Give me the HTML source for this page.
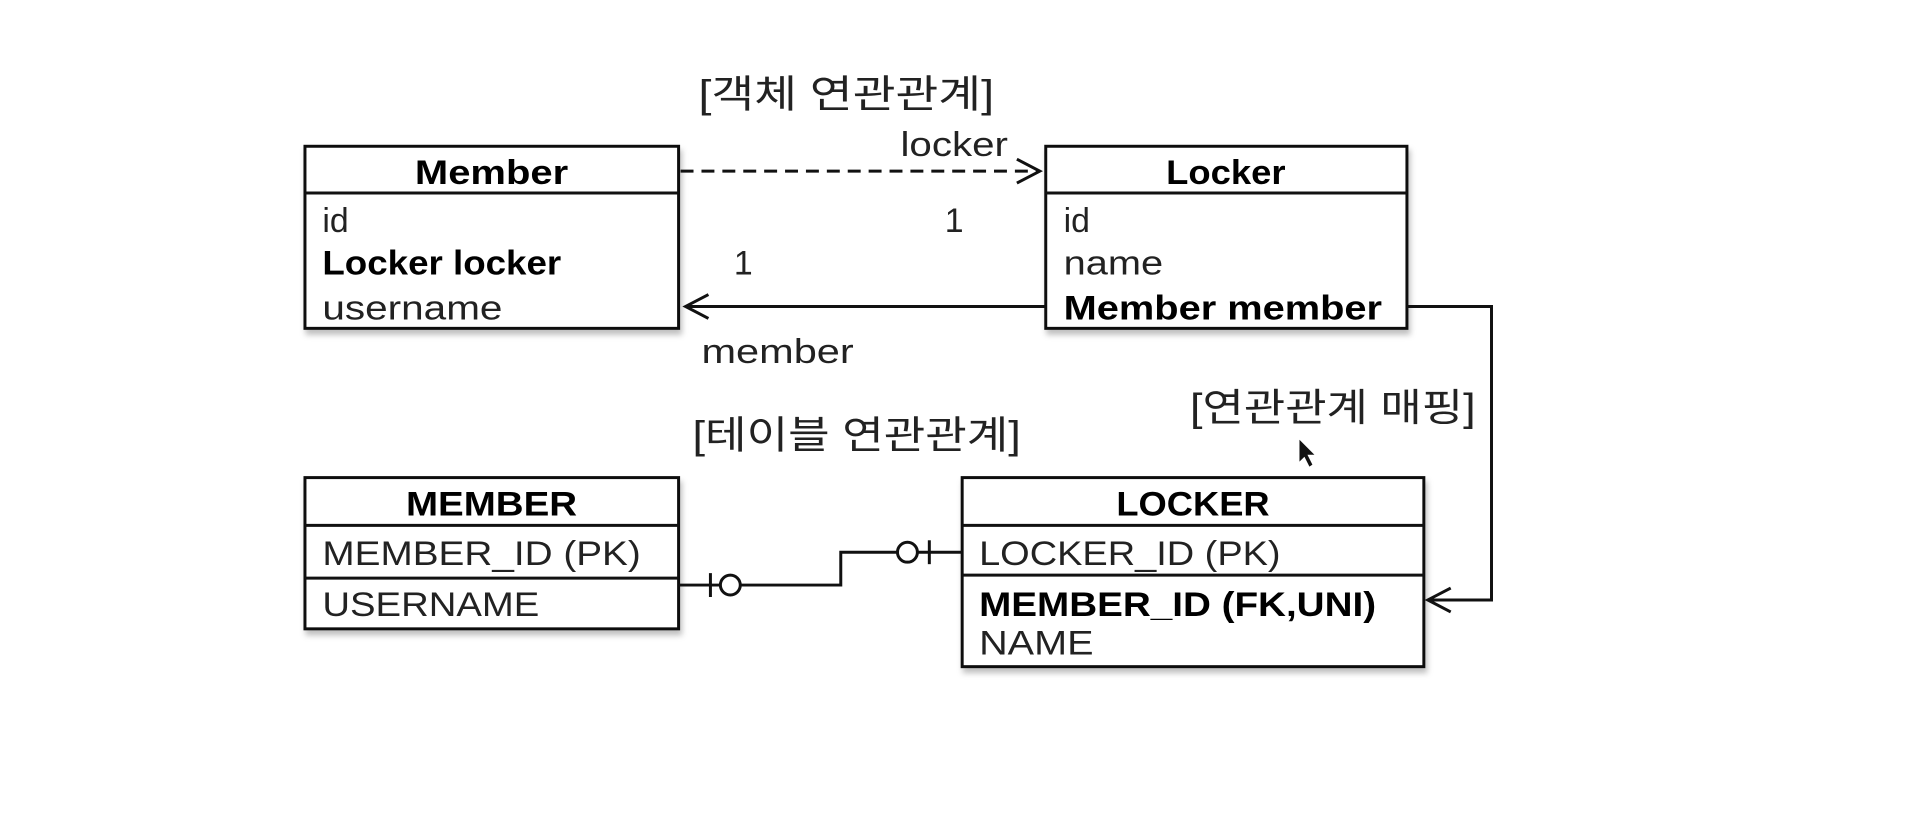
<!DOCTYPE html>
<html><head><meta charset="utf-8"><style>
html,body{margin:0;padding:0;background:#fff;}
svg{display:block}
text{font-family:"Liberation Sans","Noto Sans CJK KR",sans-serif;fill:#222;}
.b{font-weight:bold;fill:#000}
</style></head><body>
<svg width="1928" height="814" viewBox="0 0 1928 814" xmlns="http://www.w3.org/2000/svg">
<defs>
<filter id="sh" x="-5%" y="-5%" width="115%" height="120%"><feDropShadow dx="2" dy="5" stdDeviation="3" flood-color="#000" flood-opacity="0.25"/></filter>
</defs>
<g transform="scale(0.995)">
<g font-size="39">
<text x="702" y="108" textLength="297" lengthAdjust="spacingAndGlyphs">[객체 연관관계]</text>
<text x="696" y="451" textLength="330" lengthAdjust="spacingAndGlyphs">[테이블 연관관계]</text>
<text x="1196" y="423" textLength="287" lengthAdjust="spacingAndGlyphs">[연관관계 매핑]</text>
</g>
<g fill="#fff" stroke="#111" stroke-width="3" filter="url(#sh)">
<rect x="306.5" y="147" width="375.5" height="183"/>
<rect x="1051" y="147" width="363" height="183"/>
<rect x="306.5" y="480" width="375.5" height="152"/>
<rect x="967" y="480" width="464" height="190"/>
</g>
<g stroke="#111" stroke-width="3">
<line x1="306.5" y1="194" x2="682" y2="194"/>
<line x1="1051" y1="194" x2="1414" y2="194"/>
<line x1="306.5" y1="528" x2="682" y2="528"/>
<line x1="306.5" y1="581" x2="682" y2="581"/>
<line x1="967" y1="528" x2="1431" y2="528"/>
<line x1="967" y1="578" x2="1431" y2="578"/>
</g>
<g font-size="34">
<text class="b" x="494" y="185" text-anchor="middle" textLength="154" lengthAdjust="spacingAndGlyphs">Member</text>
<text x="324" y="233">id</text>
<text class="b" x="324" y="276" textLength="240" lengthAdjust="spacingAndGlyphs">Locker locker</text>
<text x="324" y="321" textLength="181" lengthAdjust="spacingAndGlyphs">username</text>
<text class="b" x="1232" y="185" text-anchor="middle" textLength="120" lengthAdjust="spacingAndGlyphs">Locker</text>
<text x="1069" y="233">id</text>
<text x="1069" y="276" textLength="100" lengthAdjust="spacingAndGlyphs">name</text>
<text class="b" x="1069" y="321" textLength="320" lengthAdjust="spacingAndGlyphs">Member member</text>
<text x="959" y="157" text-anchor="middle" textLength="108" lengthAdjust="spacingAndGlyphs">locker</text>
<text x="959" y="233" text-anchor="middle">1</text>
<text x="747" y="276" text-anchor="middle">1</text>
<text x="705" y="365" textLength="153" lengthAdjust="spacingAndGlyphs">member</text>
<text class="b" x="494" y="518" text-anchor="middle" textLength="172" lengthAdjust="spacingAndGlyphs">MEMBER</text>
<text x="324" y="568" textLength="320" lengthAdjust="spacingAndGlyphs">MEMBER_ID (PK)</text>
<text x="324" y="619" textLength="218" lengthAdjust="spacingAndGlyphs">USERNAME</text>
<text class="b" x="1199" y="518" text-anchor="middle" textLength="154" lengthAdjust="spacingAndGlyphs">LOCKER</text>
<text x="984" y="568" textLength="303" lengthAdjust="spacingAndGlyphs">LOCKER_ID (PK)</text>
<text class="b" x="984" y="619" textLength="399" lengthAdjust="spacingAndGlyphs">MEMBER_ID (FK,UNI)</text>
<text x="984" y="658" textLength="115" lengthAdjust="spacingAndGlyphs">NAME</text>
</g>
<g fill="none" stroke="#111" stroke-width="3">
<line x1="684" y1="172" x2="1042" y2="172" stroke-dasharray="13,8"/>
<polyline points="1022,160 1045,172 1022,184"/>
<line x1="690" y1="308" x2="1051" y2="308"/>
<polyline points="712,296 689,308 712,320"/>
<polyline points="1414,308 1499,308 1499,603 1435,603"/>
<polyline points="1458,591 1435,603 1458,615"/>
<polyline points="682,588 845,588 845,555 967,555"/>
<line x1="714" y1="576" x2="714" y2="600"/>
<circle cx="734" cy="588" r="10" fill="#fff"/>
<circle cx="912" cy="555" r="10" fill="#fff"/>
<line x1="934" y1="543" x2="934" y2="567"/>
</g>
<path d="M1306,442 L1306,464 L1311,459 L1316,469 L1319,467 L1314,457 L1321,457 Z" fill="#111"/>
</g>
</svg>
</body></html>
